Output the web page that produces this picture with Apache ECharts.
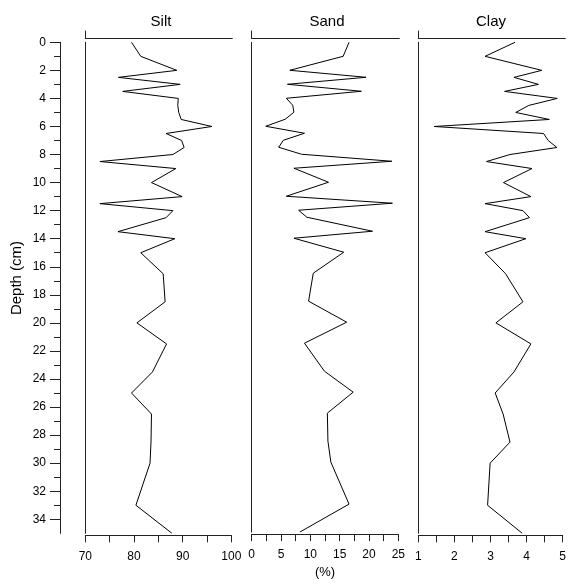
<!DOCTYPE html>
<html><head><meta charset="utf-8">
<script src="https://cdn.jsdelivr.net/npm/echarts@6/dist/echarts.min.js"></script>
<style>html,body{margin:0;padding:0;background:#fff}#c{width:569px;height:584px}</style>
</head><body><div id="c"></div>
<script>
const depths = [0,1,2,2.5,3,3.5,4,4.5,5,5.5,6,6.5,7,7.5,8,8.5,9,10,11,11.5,12,12.5,13.5,14,15,16.5,18.5,20,21.5,23.5,25,26.5,28.5,30,33,35];
const silt = [79.5,81.4,88.8,76.8,89.5,77.7,89.1,89.0,89.2,89.7,96.0,86.6,89.8,90.3,88.0,73.0,88.6,83.6,89.9,73.0,88.0,86.6,76.7,88.4,81.4,86.0,86.4,80.6,86.7,83.8,79.5,83.6,83.5,83.3,80.4,87.8];
const sand = [16.6,15.6,6.5,19.5,6.1,18.7,5.9,7.0,7.2,5.7,2.4,9.0,5.4,4.6,8.5,23.9,7.2,13.1,5.9,24.0,8.0,9.4,20.6,7.2,15.7,10.5,9.7,16.2,9.0,12.4,17.3,12.9,13.0,13.5,16.6,8.2];
const clay = [3.68,2.85,4.42,3.65,4.33,3.39,4.85,4.06,3.7,4.63,1.44,4.47,4.6,4.84,3.54,2.89,4.15,3.36,4.12,2.85,3.9,4.08,2.85,3.98,2.85,3.42,3.9,3.15,4.12,3.65,3.13,3.35,3.54,2.99,2.92,3.88];
const panelTitles = ['Silt','Sand','Clay'];
const depthLabels = [0,2,4,6,8,10,12,14,16,18,20,22,24,26,28,30,32,34];
const depthMinor = [1,3,5,7,9,11,13,15,17,19,21,23,25,27,29,31,33];
const siltTicks = [70,80,90,100];
const sandTicks = [0,5,10,15,20,25];
const clayTicks = [1,2,3,4,5];

const FONT = '"Liberation Sans", Arial, sans-serif';
const AX = '#222';
const panels = [
  {left:85.3, width:146, min:70, max:100, interval:5, labels:siltTicks, data:silt, titleX:156},
  {left:251.7, width:146.6, min:0, max:25, interval:2.5, labels:sandTicks, data:sand, titleX:322, name:'(%)'},
  {left:418.3, width:146, min:1, max:5, interval:0.5, labels:clayTicks, data:clay, titleX:486}
];
const TOP = 42.3, H = 491;
const near = (v, arr) => arr.some(a => Math.abs(a - v) < 1e-6);

const grid = [], xAxis = [], yAxis = [], series = [], title = [];
panels.forEach((p, i) => {
  grid.push({left:p.left, width:p.width, top:TOP, height:H});
  title.push({text:panelTitles[i], left:p.titleX, top:9, textAlign:'center',
    textStyle:{fontFamily:FONT, fontSize:15, fontWeight:'normal', color:'#000'}});
});
panels.forEach((p) => {
  grid.push({left:p.left, width:p.width + 1, top:31, height:7.3});
});
panels.forEach((p, i) => {
  xAxis.push({type:'value', gridIndex:i, position:'bottom', offset:2, min:p.min, max:p.max, interval:p.interval,
    axisLine:{show:true, onZero:false, lineStyle:{color:AX, width:1}},
    axisTick:{show:true, length:7, inside:false, lineStyle:{color:AX}},
    axisLabel:{show:true, margin:15, fontFamily:FONT, fontSize:12, color:'#000',
      formatter:(v) => near(v, p.labels) ? String(v) : ''},
    splitLine:{show:false},
    name:p.name || '', nameLocation:'middle', nameGap:28,
    nameTextStyle:{fontFamily:FONT, fontSize:13, color:'#000'}});
});
panels.forEach((p, i) => {
  xAxis.push({type:'value', gridIndex:3 + i, position:'bottom', min:p.min, max:p.max,
    axisLine:{show:true, onZero:false, lineStyle:{color:AX, width:1}},
    axisTick:{show:false}, axisLabel:{show:false}, splitLine:{show:false}});
});
panels.forEach((p, i) => {
  yAxis.push({type:'value', gridIndex:i, position:'left', min:0, max:35, inverse:true,
    axisLine:{show:true, onZero:false, lineStyle:{color:AX, width:1}},
    axisTick:{show:false}, axisLabel:{show:false}, splitLine:{show:false}});
});
yAxis.push({type:'value', gridIndex:0, position:'left', offset:25.3, min:0, max:35, inverse:true, interval:1,
  axisLine:{show:true, onZero:false, lineStyle:{color:AX, width:1}},
  axisTick:{show:true, length:10, lineStyle:{color:AX}, customValues:depthLabels},
  axisLabel:{show:true, margin:14, fontFamily:FONT, fontSize:12, color:'#000',
    formatter:(v) => near(v, depthLabels) ? String(v) : ''},
  splitLine:{show:false}});
yAxis.push({type:'value', gridIndex:0, position:'left', offset:25.3, min:0, max:35, inverse:true, interval:1,
  axisLine:{show:false, onZero:false},
  axisTick:{show:true, length:6, lineStyle:{color:AX}, customValues:depthMinor},
  axisLabel:{show:false}, splitLine:{show:false}});
panels.forEach((p, i) => {
  yAxis.push({type:'value', gridIndex:3 + i, position:'left', min:0, max:1,
    axisLine:{show:true, onZero:false, lineStyle:{color:AX, width:1}},
    axisTick:{show:false}, axisLabel:{show:false}, splitLine:{show:false}});
});

panels.forEach((p, i) => {
  series.push({type:'line', xAxisIndex:i, yAxisIndex:i, symbol:'none', silent:true,
    lineStyle:{color:'#000', width:1}, data:depths.map((d, k) => [p.data[k], d])});
});

const chart = echarts.init(document.getElementById('c'), null, {renderer:'canvas'});
chart.setOption({
  animation:false, backgroundColor:'#fff',
  title, grid, xAxis, yAxis, series,
  graphic:[{type:'text', x:17, y:278, rotation:Math.PI/2,
    style:{text:'Depth (cm)', fontFamily:FONT, fontSize:15, fill:'#000', align:'center', verticalAlign:'middle'}}]
});
</script></body></html>
